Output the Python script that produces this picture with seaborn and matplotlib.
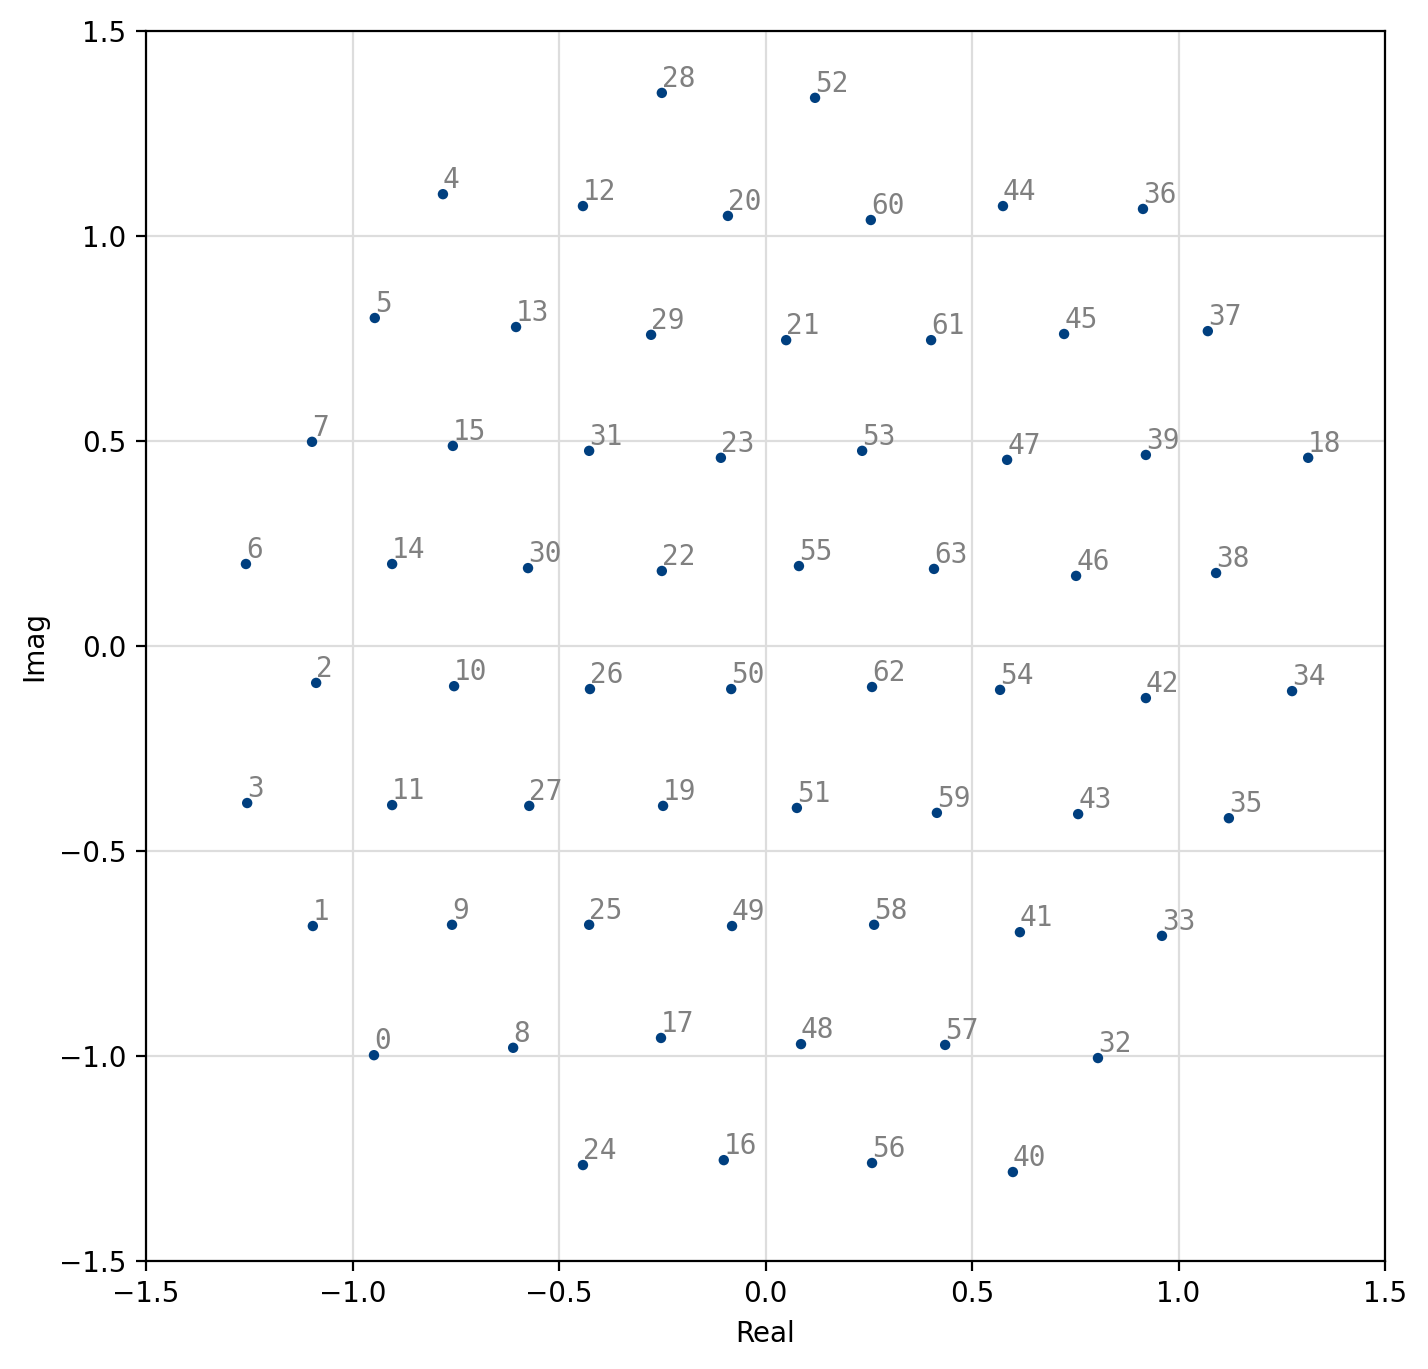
import matplotlib
matplotlib.use("Agg")
import matplotlib.pyplot as plt
import seaborn as sns
import pandas as pd

labels = [28, 52,
          4, 12, 20, 60, 44, 36,
          5, 13, 29, 21, 61, 45, 37,
          7, 15, 31, 23, 53, 47, 39, 18,
          6, 14, 30, 22, 55, 63, 46, 38,
          2, 10, 26, 50, 62, 54, 42, 34,
          3, 11, 27, 19, 51, 59, 43, 35,
          1, 9, 25, 49, 58, 41, 33,
          0, 8, 17, 48, 57, 32,
          24, 16, 56, 40]
real = [-0.251, 0.120,
        -0.781, -0.442, -0.091, 0.255, 0.575, 0.914,
        -0.946, -0.604, -0.277, 0.050, 0.401, 0.723, 1.071,
        -1.098, -0.757, -0.427, -0.108, 0.234, 0.585, 0.921, 1.314,
        -1.258, -0.904, -0.575, -0.251, 0.081, 0.408, 0.752, 1.091,
        -1.088, -0.754, -0.425, -0.083, 0.258, 0.568, 0.921, 1.275,
        -1.255, -0.904, -0.572, -0.248, 0.076, 0.415, 0.757, 1.122,
        -1.096, -0.759, -0.427, -0.081, 0.263, 0.616, 0.960,
        -0.948, -0.611, -0.253, 0.086, 0.435, 0.805,
        -0.442, -0.101, 0.258, 0.599]
imag = [1.349, 1.337,
        1.102, 1.073, 1.049, 1.039, 1.073, 1.066,
        0.800, 0.778, 0.759, 0.746, 0.746, 0.761, 0.768,
        0.498, 0.488, 0.476, 0.459, 0.476, 0.454, 0.466, 0.459,
        0.200, 0.200, 0.190, 0.183, 0.195, 0.188, 0.171, 0.178,
        -0.090, -0.098, -0.105, -0.105, -0.100, -0.107, -0.127, -0.110,
        -0.383, -0.388, -0.390, -0.390, -0.395, -0.407, -0.410, -0.420,
        -0.683, -0.680, -0.680, -0.683, -0.680, -0.698, -0.707,
        -0.998, -0.980, -0.956, -0.971, -0.973, -1.005,
        -1.266, -1.254, -1.261, -1.283]

df = pd.DataFrame({"Real": real, "Imag": imag, "label": labels})

fig = plt.figure(figsize=(7.14, 6.845), dpi=200)
ax = fig.add_axes([146/1428, 1 - 1261/1369, (1385-146)/1428, (1261-31)/1369])
ax.grid(True, color="#dddddd", linewidth=0.8, zorder=0)
ax.set_axisbelow(True)
sns.scatterplot(data=df, x="Real", y="Imag", ax=ax, color="#003f7f", s=14,
                edgecolor="none", zorder=3, legend=False)
for r, i, l in zip(real, imag, labels):
    ax.text(r, i, str(l), family="DejaVu Sans Mono", fontsize=10, color="gray",
            ha="left", va="bottom", zorder=4)
ax.set_xlim(-1.5, 1.5)
ax.set_ylim(-1.5, 1.5)
ax.set_xticks([-1.5, -1.0, -0.5, 0.0, 0.5, 1.0, 1.5])
ax.set_yticks([-1.5, -1.0, -0.5, 0.0, 0.5, 1.0, 1.5])
ax.set_xlabel("Real")
ax.set_ylabel("Imag")
fig.savefig("out.png", dpi=200)
